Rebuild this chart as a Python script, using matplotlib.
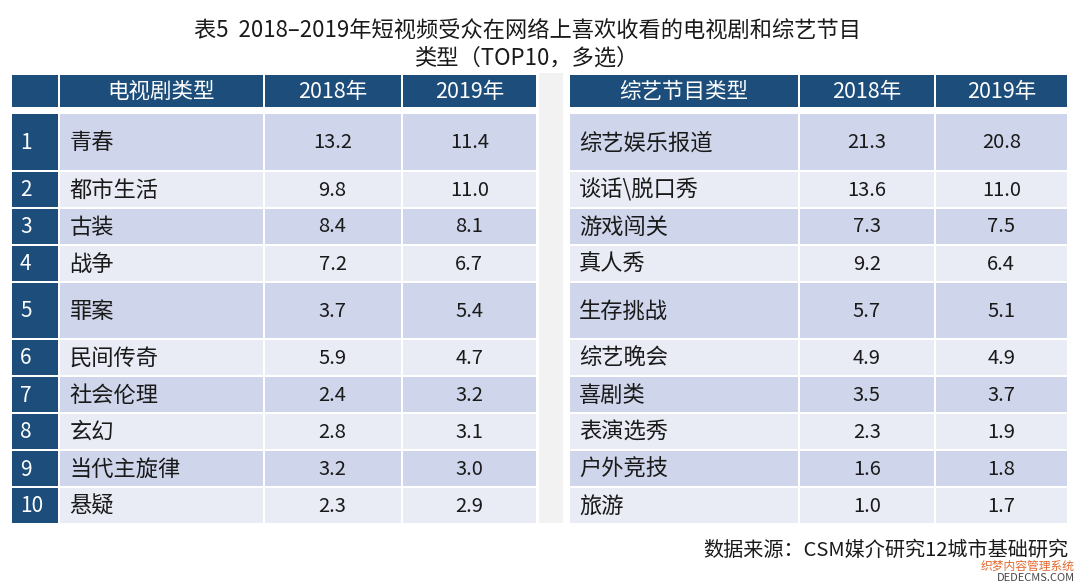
import matplotlib
matplotlib.use("Agg")
import matplotlib.pyplot as plt
from matplotlib.patches import Rectangle

plt.rcParams['font.family'] = ['Noto Sans CJK SC', 'DejaVu Sans']

# data
title_lines = ["表5  2018–2019年短视频受众在网络上喜欢收看的电视剧和综艺节目", "类型（TOP10，多选）"]
tv_header = ["", "电视剧类型", "2018年", "2019年"]
tv_ranks = [str(i) for i in range(1, 11)]
tv_types = ["青春", "都市生活", "古装", "战争", "罪案", "民间传奇", "社会伦理", "玄幻", "当代主旋律", "悬疑"]
tv_2018 = [13.2, 9.8, 8.4, 7.2, 3.7, 5.9, 2.4, 2.8, 3.2, 2.3]
tv_2019 = [11.4, 11.0, 8.1, 6.7, 5.4, 4.7, 3.2, 3.1, 3.0, 2.9]
var_header = ["综艺节目类型", "2018年", "2019年"]
var_types = ["综艺娱乐报道", "谈话\\脱口秀", "游戏闯关", "真人秀", "生存挑战", "综艺晚会", "喜剧类", "表演选秀", "户外竞技", "旅游"]
var_2018 = [21.3, 13.6, 7.3, 9.2, 5.7, 4.9, 3.5, 2.3, 1.6, 1.0]
var_2019 = [20.8, 11.0, 7.5, 6.4, 5.1, 4.9, 3.7, 1.9, 1.8, 1.7]
source = "数据来源：CSM媒介研究12城市基础研究"

# style / layout
DARK = "#1d4e7b"
ODD = "#cfd5ea"
EVEN = "#e9ebf5"
GAP = "#f2f2f2"
TXT = "#1a1a1a"
left_cols = [11, 58.5, 263.5, 401.5, 537]
right_cols = [569, 799, 934.5, 1068]
head_top, head_bot = 75, 107
body_top = 114
tall_rows = {0, 4}
pad = 2

fig = plt.figure(figsize=(10.8, 5.84), dpi=100)
ax = fig.add_axes([0, 0, 1, 1])
ax.set_xlim(0, 1080)
ax.set_ylim(584, 0)
ax.axis("off")


def cell(ax, x0, x1, y0, y1, color):
    ax.add_patch(Rectangle((x0 + pad / 2, y0), x1 - x0 - pad, y1 - y0, facecolor=color, edgecolor="none"))


# row positions
row_edges = []
y = body_top
for i in range(len(tv_types)):
    h = 55.5 if i in tall_rows else 35
    row_edges.append((y, y + h))
    y += h + pad

# gray strip between the two tables
ax.add_patch(Rectangle((539, 73), 24, row_edges[-1][1] - 73, facecolor=GAP, edgecolor="none"))

# headers
for cols, labels in [(left_cols, tv_header), (right_cols, var_header)]:
    for j, lab in enumerate(labels):
        cell(ax, cols[j], cols[j + 1], head_top, head_bot, DARK)
        ax.text((cols[j] + cols[j + 1]) / 2, (head_top + head_bot) / 2 + 1, lab,
                color="white", fontsize=15.5, ha="center", va="center")

# body
for i in range(len(tv_types)):
    y0, y1 = row_edges[i]
    yc = (y0 + y1) / 2 + 1
    bg = ODD if i % 2 == 0 else EVEN
    # left table
    cell(ax, left_cols[0], left_cols[1], y0, y1, DARK)
    ax.text(left_cols[0] + 9, yc, tv_ranks[i], color="white", fontsize=15, ha="left", va="center")
    for j in range(1, 4):
        cell(ax, left_cols[j], left_cols[j + 1], y0, y1, bg)
    ax.text(left_cols[1] + 11, yc, tv_types[i], color=TXT, fontsize=16, ha="left", va="center")
    ax.text((left_cols[2] + left_cols[3]) / 2, yc, f"{tv_2018[i]:.1f}", color=TXT, fontsize=14.5, ha="center", va="center")
    ax.text((left_cols[3] + left_cols[4]) / 2, yc, f"{tv_2019[i]:.1f}", color=TXT, fontsize=14.5, ha="center", va="center")
    # right table
    for j in range(3):
        cell(ax, right_cols[j], right_cols[j + 1], y0, y1, bg)
    ax.text(right_cols[0] + 10, yc, var_types[i], color=TXT, fontsize=16, ha="left", va="center")
    ax.text((right_cols[1] + right_cols[2]) / 2, yc, f"{var_2018[i]:.1f}", color=TXT, fontsize=14.5, ha="center", va="center")
    ax.text((right_cols[2] + right_cols[3]) / 2, yc, f"{var_2019[i]:.1f}", color=TXT, fontsize=14.5, ha="center", va="center")

# title
ax.text(527, 31, title_lines[0], color=TXT, fontsize=16, ha="center", va="center")
ax.text(527, 58, title_lines[1], color=TXT, fontsize=16, ha="center", va="center")

# source and watermark
ax.text(1068, 550, source, color=TXT, fontsize=14.5, ha="right", va="center")
ax.text(1075, 566, "织梦内容管理系统", color="#e05a1a", fontsize=8.5, ha="right", va="center", alpha=0.9)
ax.text(1075, 578, "DEDECMS.COM", color="#333333", fontsize=8, ha="right", va="center", alpha=0.9)

fig.savefig("out.png", dpi=100, facecolor="white")
